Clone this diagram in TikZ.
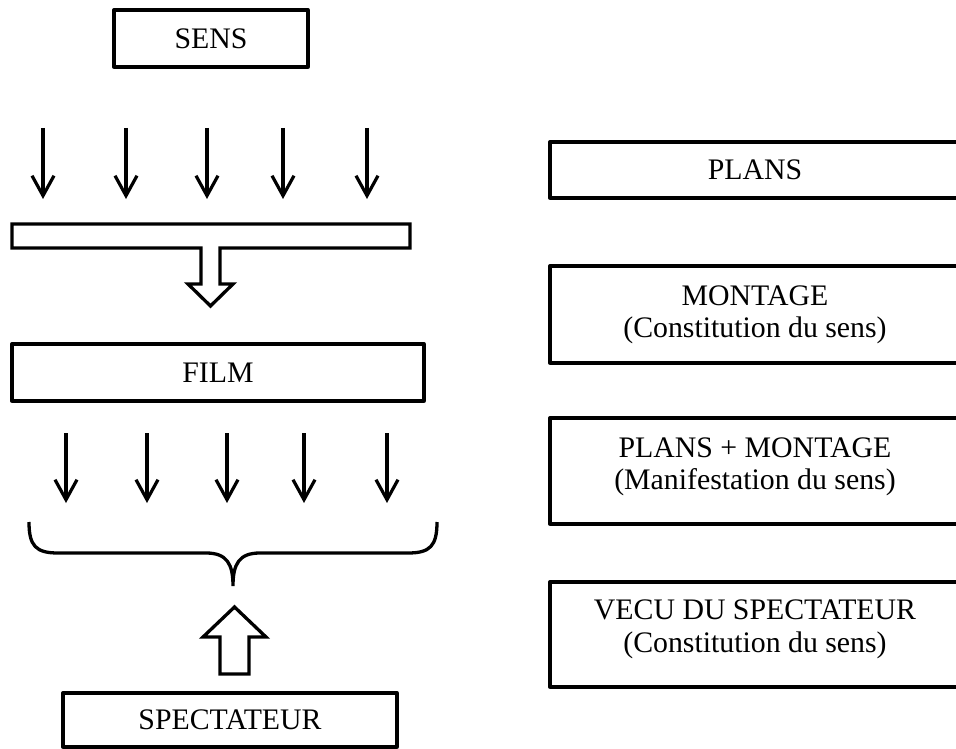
\documentclass[tikz,border=0pt]{standalone}
\usepackage{fontspec}
\setmainfont{Liberation Serif}
\usetikzlibrary{arrows.meta}
\begin{document}
\begin{tikzpicture}[x=1pt,y=-1pt,
  box/.style={draw, line width=3.3pt, line join=round, rectangle, inner sep=0pt,
              font=\fontsize{29.8}{32.5}\selectfont},
  lbl/.style={font=\fontsize{29.8}{32.5}\selectfont, align=center, inner sep=0pt},
  ray/.style={line width=3.2pt, -{Straight Barb[length=20pt,width=22pt]}},
  hollow/.style={line width=3.3pt, line join=miter, fill=white},
  brace/.style={line width=3.3pt},
]
\useasboundingbox (0,0) rectangle (956,749);
\clip (0,0) rectangle (956,749);

% left column: boxes
\node[box, minimum width=194pt, minimum height=57pt] (sens) at (211,38.5) {SENS};
\node[box, minimum width=412pt, minimum height=57pt] (film) at (218,372.5) {FILM};
\node[box, minimum width=334pt, minimum height=54pt] (spect) at (230,720) {SPECTATEUR};

% rays falling on the bar
\foreach \x [count=\i] in {43,126,207,283,367} {
  \coordinate (ts\i) at (\x,128);
  \coordinate (te\i) at (\x,199);
  \draw[ray] (ts\i) -- (te\i);
}

% bar with its hollow arrow pointing down
\draw[hollow] (12,224) -- (410,224) -- (410,248) -- (220,248) -- (220,284)
  -- (233,284) -- (210.5,306) -- (188,284) -- (201,284) -- (201,248)
  -- (12,248) -- cycle;

% rays leaving the film
\foreach \x [count=\i] in {66,147,227,304,387} {
  \coordinate (bs\i) at (\x,433);
  \coordinate (be\i) at (\x,503);
  \draw[ray] (bs\i) -- (be\i);
}

% gathering brace
\draw[brace] (29,522) .. controls (29,546) and (36,553) .. (58,553)
  -- (206,553) .. controls (227,553) and (233,564) .. (233,586)
  .. controls (233,564) and (239,553) .. (260,553)
  -- (408,553) .. controls (430,553) and (437,546) .. (437,522);

% hollow arrow rising from the spectator
\draw[hollow] (220,674) -- (220,637) -- (203,637) -- (234.5,607) -- (266,637)
  -- (249,637) -- (249,674) -- cycle;

% right column
\node[box, minimum width=410pt, minimum height=56pt] (plans) at (755,170) {PLANS};
\node[box, minimum width=410pt, minimum height=97pt] (montage) at (755,314.5) {};
\node[box, minimum width=410pt, minimum height=106pt] (pm) at (755,471) {};
\node[box, minimum width=410pt, minimum height=105pt] (vecu) at (755,634.5) {};

\node[lbl] (montage-t) at (755,315) {MONTAGE\\(Constitution du sens)};
\node[lbl] (pm-t) at (755,467) {PLANS + MONTAGE\\(Manifestation du sens)};
\node[lbl] (vecu-t) at (755,629.5) {VECU DU SPECTATEUR\\(Constitution du sens)};
\end{tikzpicture}
\end{document}
